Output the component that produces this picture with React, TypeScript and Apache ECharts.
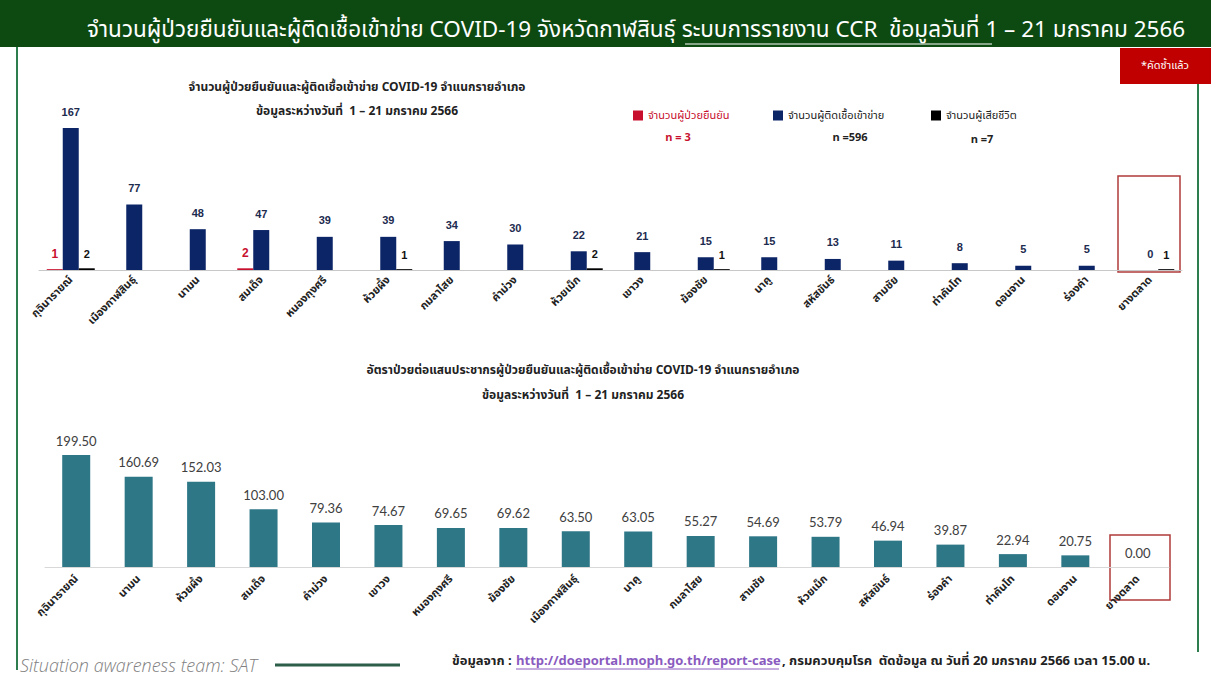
import React, { useEffect, useRef } from "react";
import * as echarts from "echarts";

const topCategories = ["กุฉินารายณ์", "เมืองกาฬสินธุ์", "นามน", "สมเด็จ", "หนองกุงศรี", "ห้วยผึ้ง", "กมลาไสย", "คำม่วง", "ห้วยเม็ก", "เขาวง", "ฆ้องชัย", "นาคู", "สหัสขันธ์", "สามชัย", "ท่าคันโท", "ดอนจาน", "ร่องคำ", "ยางตลาด"];
const confirmedCases = [1, 0, 0, 2, 0, 0, 0, 0, 0, 0, 0, 0, 0, 0, 0, 0, 0, 0];
const suspectedCases = [167, 77, 48, 47, 39, 39, 34, 30, 22, 21, 15, 15, 13, 11, 8, 5, 5, 0];
const deathCases = [2, 0, 0, 0, 0, 1, 0, 0, 2, 0, 1, 0, 0, 0, 0, 0, 0, 1];

const rateCategories = ["กุฉินารายณ์", "นามน", "ห้วยผึ้ง", "สมเด็จ", "คำม่วง", "เขาวง", "หนองกุงศรี", "ฆ้องชัย", "เมืองกาฬสินธุ์", "นาคู", "กมลาไสย", "สามชัย", "ห้วยเม็ก", "สหัสขันธ์", "ร่องคำ", "ท่าคันโท", "ดอนจาน", "ยางตลาด"];
const rateValues = [199.5, 160.69, 152.03, 103.0, 79.36, 74.67, 69.65, 69.62, 63.5, 63.05, 55.27, 54.69, 53.79, 46.94, 39.87, 22.94, 20.75, 0.0];

const seriesNames = ["จำนวนผู้ป่วยยืนยัน", "จำนวนผู้ติดเชื้อเข้าข่าย", "จำนวนผู้เสียชีวิต"];
const seriesTotals = ["n = 3", "n =596", "n =7"];

const FONT = "'Noto Sans Thai', 'Noto Sans', 'Liberation Sans', sans-serif";
const RED = "#c8102e";
const NAVY = "#0c2566";
const TEAL = "#2e7787";
const GREEN = "#2e7d4f";

export default function App() {
  const ref = useRef<HTMLDivElement>(null);
  useEffect(() => {
    if (!ref.current) return;
    const chart = echarts.init(ref.current, null, { renderer: "svg" });
    const hideZero = (p: any) => (p.value ? String(p.value) : "");
    const option: any = {
      animation: false,
      backgroundColor: "#ffffff",
      textStyle: { fontFamily: FONT },
      legend: [0, 1, 2].map((i) => ({
        data: [seriesNames[i]],
        left: [628, 768, 926][i],
        top: 105,
        itemWidth: 10,
        itemHeight: 10,
        icon: "rect",
        textStyle: { fontSize: 11, color: i === 0 ? RED : "#222", fontFamily: FONT },
      })),
      grid: [
        { left: 39, top: 128, width: 1143, height: 142 },
        { left: 45, top: 455, width: 1124, height: 112 },
      ],
      xAxis: [
        {
          type: "category",
          gridIndex: 0,
          data: topCategories,
          axisLine: { lineStyle: { color: "#c8c8c8" } },
          axisTick: { show: false },
          axisLabel: { rotate: 45, interval: 0, fontSize: 11, fontWeight: "bold", color: "#222", fontFamily: FONT, margin: 8 },
        },
        {
          type: "category",
          gridIndex: 1,
          data: rateCategories,
          axisLine: { lineStyle: { color: "#d8d8d8" } },
          axisTick: { show: false },
          axisLabel: { rotate: 45, interval: 0, fontSize: 11, fontWeight: "bold", color: "#222", fontFamily: FONT, margin: 10 },
        },
      ],
      yAxis: [
        { type: "value", gridIndex: 0, min: 0, max: 167, show: false, splitLine: { show: false } },
        { type: "value", gridIndex: 1, min: 0, max: 199.5, show: false, splitLine: { show: false } },
      ],
      series: [
        {
          name: seriesNames[0],
          type: "bar",
          xAxisIndex: 0,
          yAxisIndex: 0,
          data: confirmedCases,
          barWidth: 16,
          barGap: "0%",
          itemStyle: { color: RED },
          label: { show: true, position: "top", distance: 9, formatter: hideZero, color: RED, fontSize: 12, fontWeight: "bold", fontFamily: "'Liberation Sans', sans-serif" },
        },
        {
          name: seriesNames[1],
          type: "bar",
          xAxisIndex: 0,
          yAxisIndex: 0,
          data: suspectedCases,
          barWidth: 16,
          barGap: "0%",
          itemStyle: { color: NAVY },
          label: { show: true, position: "top", distance: 11, color: "#1d2b4f", fontSize: 11, fontWeight: "bold", fontFamily: "'Liberation Sans', sans-serif" },
        },
        {
          name: seriesNames[2],
          type: "bar",
          xAxisIndex: 0,
          yAxisIndex: 0,
          data: deathCases,
          barWidth: 16,
          barGap: "0%",
          itemStyle: { color: "#000000" },
          label: { show: true, position: "top", distance: 9, formatter: hideZero, color: "#111", fontSize: 11, fontWeight: "bold", fontFamily: "'Liberation Sans', sans-serif" },
        },
        {
          name: "rate",
          type: "bar",
          xAxisIndex: 1,
          yAxisIndex: 1,
          data: rateValues,
          barWidth: 28,
          itemStyle: { color: TEAL },
          label: {
            show: true,
            position: "top",
            distance: 8,
            formatter: (p: any) => Number(p.value).toFixed(2),
            color: "#404040",
            fontSize: 13,
            fontFamily: "Lato, 'Open Sans', sans-serif",
          },
        },
      ],
      graphic: [
        { type: "rect", shape: { x: 0, y: 0, width: 1211, height: 47 }, style: { fill: "#0d4a12" } },
        { type: "text", x: 87, y: 30, style: { text: "จำนวนผู้ป่วยยืนยันและผู้ติดเชื้อเข้าข่าย COVID-19 จังหวัดกาฬสินธุ์ ระบบการรายงาน CCR  ข้อมูลวันที่ 1 – 21 มกราคม 2566", fill: "#fff", fontSize: 22.5, fontFamily: FONT, align: "left", verticalAlign: "middle" } },
        { type: "line", shape: { x1: 685, y1: 44, x2: 992, y2: 44 }, style: { stroke: "#fff", lineWidth: 1 } },
        { type: "line", shape: { x1: 17, y1: 47, x2: 17, y2: 670 }, style: { stroke: GREEN, lineWidth: 2 } },
        { type: "line", shape: { x1: 1198, y1: 84, x2: 1198, y2: 652 }, style: { stroke: GREEN, lineWidth: 2 } },
        { type: "rect", shape: { x: 1120, y: 48, width: 91, height: 36 }, style: { fill: "#c00000" } },
        { type: "text", x: 1165, y: 65, style: { text: "*คัดซ้ำแล้ว", fill: "#fff", fontSize: 11, fontFamily: FONT, align: "center", verticalAlign: "middle" } },
        { type: "text", x: 357, y: 87, style: { text: "จำนวนผู้ป่วยยืนยันและผู้ติดเชื้อเข้าข่าย COVID-19 จำแนกรายอำเภอ", fill: "#222", fontSize: 12, fontWeight: "bold", fontFamily: FONT, align: "center", verticalAlign: "middle" } },
        { type: "text", x: 357, y: 111, style: { text: "ข้อมูลระหว่างวันที่  1 – 21 มกราคม 2566", fill: "#222", fontSize: 12, fontWeight: "bold", fontFamily: FONT, align: "center", verticalAlign: "middle" } },
        { type: "text", x: 678, y: 137, style: { text: seriesTotals[0], fill: RED, fontSize: 11, fontWeight: "bold", fontFamily: FONT, align: "center", verticalAlign: "middle" } },
        { type: "text", x: 850, y: 137, style: { text: seriesTotals[1], fill: "#222", fontSize: 11, fontWeight: "bold", fontFamily: FONT, align: "center", verticalAlign: "middle" } },
        { type: "text", x: 982, y: 139, style: { text: seriesTotals[2], fill: "#222", fontSize: 11, fontWeight: "bold", fontFamily: FONT, align: "center", verticalAlign: "middle" } },
        { type: "rect", shape: { x: 1118, y: 176, width: 62, height: 96 }, style: { fill: "none", stroke: "#b03a3a", lineWidth: 1.5 } },
        { type: "text", x: 583, y: 370, style: { text: "อัตราป่วยต่อแสนประชากรผู้ป่วยยืนยันและผู้ติดเชื้อเข้าข่าย COVID-19 จำแนกรายอำเภอ", fill: "#222", fontSize: 12, fontWeight: "bold", fontFamily: FONT, align: "center", verticalAlign: "middle" } },
        { type: "text", x: 583, y: 395, style: { text: "ข้อมูลระหว่างวันที่  1 – 21 มกราคม 2566", fill: "#222", fontSize: 12, fontWeight: "bold", fontFamily: FONT, align: "center", verticalAlign: "middle" } },
        { type: "rect", shape: { x: 1110, y: 535, width: 60, height: 65 }, style: { fill: "none", stroke: "#b03a3a", lineWidth: 1.5 } },
        { type: "text", x: 20, y: 665, style: { text: "Situation awareness team: SAT", fill: "#808080", fontSize: 18, fontStyle: "italic", fontWeight: 300, fontFamily: "'Open Sans', sans-serif", align: "left", verticalAlign: "middle" } },
        { type: "line", shape: { x1: 275, y1: 665, x2: 400, y2: 665 }, style: { stroke: "#2d5e4a", lineWidth: 3 } },
        { type: "text", x: 452, y: 661, style: { text: "ข้อมูลจาก :", fill: "#222", fontSize: 13, fontWeight: "bold", fontFamily: FONT, align: "left", verticalAlign: "middle" } },
        { type: "text", x: 516, y: 661, style: { text: "http://doeportal.moph.go.th/report-case", fill: "#8a5bbf", fontSize: 13, fontWeight: "bold", fontFamily: FONT, align: "left", verticalAlign: "middle" } },
        { type: "line", shape: { x1: 516, y1: 669, x2: 779, y2: 669 }, style: { stroke: "#8a5bbf", lineWidth: 1 } },
        { type: "text", x: 782, y: 661, style: { text: ", กรมควบคุมโรค  ตัดข้อมูล ณ วันที่ 20 มกราคม 2566 เวลา 15.00 น.", fill: "#222", fontSize: 13, fontWeight: "bold", fontFamily: FONT, align: "left", verticalAlign: "middle" } },
      ],
    };
    chart.setOption(option);
    return () => chart.dispose();
  }, []);
  return <div ref={ref} style={{ position: "fixed", left: 0, top: 0, width: 1211, height: 680 }} />;
}
